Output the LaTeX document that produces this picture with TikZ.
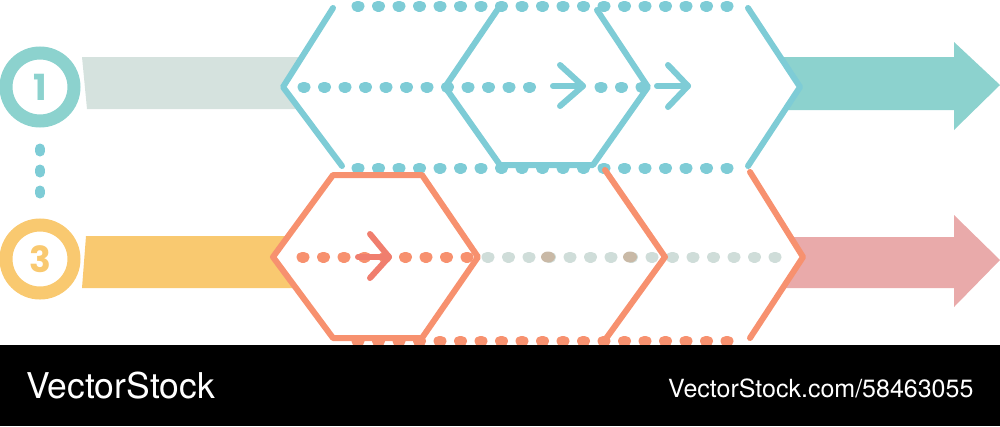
\documentclass[tikz,border=0pt]{standalone}
\usepackage{fontspec}
\setmainfont{TeX Gyre Heros}
\newfontfamily\numfont{Poppins}
\definecolor{turquesa}{HTML}{7ECCD6}
\definecolor{aguamarina}{HTML}{8CD2CE}
\definecolor{grisbanda}{HTML}{D5E2DE}
\definecolor{amarillo}{HTML}{F9C970}
\definecolor{naranja}{HTML}{F7916F}
\definecolor{coral}{HTML}{F07E6E}
\definecolor{grispunto}{HTML}{CFDDD9}
\definecolor{tostado}{HTML}{C9B9A6}
\definecolor{rosa}{HTML}{E9AAAA}
\begin{document}
\begin{tikzpicture}[x=1pt,y=-1pt,
  trazo/.style={line width=6pt, line cap=round, line join=round},
  puntos/.style={line width=11pt, line cap=round, dash pattern=on 2pt off 18.5pt},
  puntosv/.style={line width=10pt, line cap=round, dash pattern=on 3pt off 18pt},
  anillo/.style={circle, line width=13pt, minimum size=68pt, inner sep=0pt,
    font=\numfont\bfseries\fontsize{36}{36}\selectfont}]
\useasboundingbox (0,0) rectangle (1000,426);
% Bandas de entrada
\fill[grisbanda] (82,57) -- (301,57) -- (283,87) -- (299,109) -- (87,109) -- cycle;
\fill[amarillo] (86,236) -- (288,236) -- (273,257) -- (296,288) -- (82,288) -- cycle;
% Flechas de salida
\fill[aguamarina] (780,57) -- (954,57) -- (954,42) -- (1000,85) -- (954,130) -- (954,110) -- (785,110) -- (800,87) -- cycle;
\fill[rosa] (790,237) -- (954,237) -- (954,215) -- (1000,260) -- (954,307) -- (954,288) -- (783,288) -- (803,257) -- cycle;
% Circulos numerados
\node[anillo, draw=aguamarina, text=aguamarina] (uno) at (40,87) {1};
\node[anillo, draw=amarillo, text=amarillo] (tres) at (40,259) {3};
\draw[puntosv, turquesa] ([yshift=-21pt]uno.south) -- ([yshift=15pt]tres.north); % union
% Fila de arriba (turquesa)
\draw[puntos, turquesa] (357,6) -- (745,6); % borde superior
\draw[puntos, turquesa] (357,168) -- (745,168); % borde inferior
\draw[puntos, turquesa] (303,87) -- (545,87);
\draw[puntos, turquesa] (600,87) -- (642,87);
\draw[trazo, turquesa] (333,8) -- (283,87) -- (342,166);
\draw[trazo, turquesa] (500,6) -- (445,87) -- (500,165) -- (593,165) -- (648,87) -- (597,10);
\draw[trazo, turquesa] (748,8) -- (800,87) -- (748,166);
\draw[trazo, turquesa] (553,86) -- (583,86);
\draw[trazo, turquesa] (560,65) -- (583,86) -- (560,106);
\draw[trazo, turquesa] (657,86) -- (688,86);
\draw[trazo, turquesa] (668,65) -- (688,86) -- (668,107);
% Fila de abajo (naranja)
\draw[puntos, naranja] (357,341) -- (745,341); % borde inferior
\draw[puntos, naranja] (302,257) -- (470,257);
\draw[puntos, grispunto] (487,257) -- (790,257);
\fill[tostado] (548,257) ellipse (7 and 5.5);
\fill[tostado] (630,257) ellipse (7 and 5.5);
\draw[trazo, naranja] (273,257) -- (333,175) -- (422,175) -- (478,257) -- (422,338) -- (333,338) -- cycle;
\draw[trazo, naranja] (605,170) -- (665,257) -- (605,340);
\draw[trazo, naranja] (750,172) -- (803,257) -- (750,338);
\draw[trazo, coral] (358,257) -- (389,257);
\draw[trazo, coral] (370,234) -- (389,257) -- (370,278);
% Franja negra con textos
\fill[black] (0,345) rectangle (1000,426);
\node[anchor=base west, inner sep=0pt, text=white, font=\fontsize{35.5}{36}\selectfont] (marca) at (26,398) {VectorStock};
\node[anchor=base west, inner sep=0pt, text=white, font=\fontsize{25}{25}\selectfont] (enlace) at (668,397) {VectorStock.com/58463055};
\end{tikzpicture}
\end{document}
